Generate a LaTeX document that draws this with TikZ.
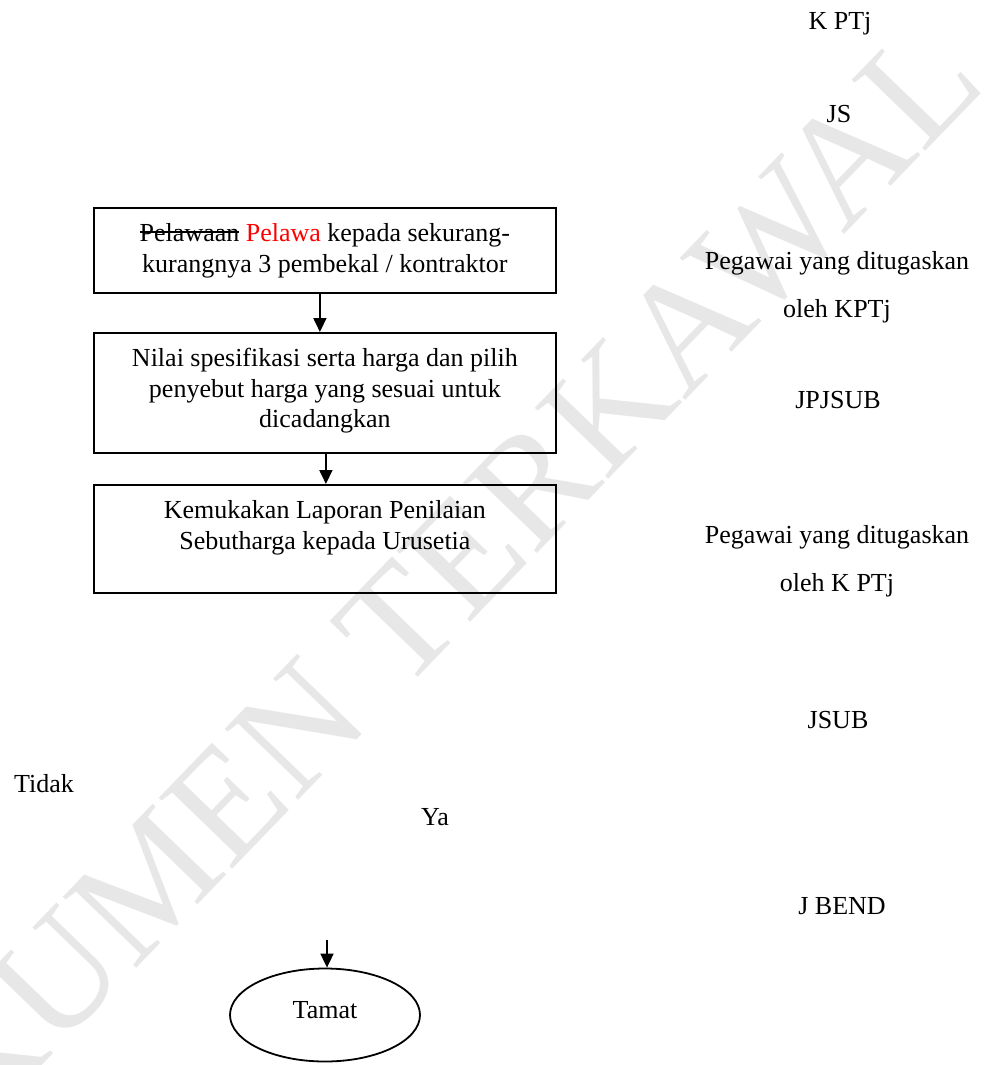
\documentclass[tikz,border=0pt]{standalone}
\usepackage{fontspec}
\setmainfont{Liberation Serif}
\usetikzlibrary{arrows.meta,shapes.geometric}

\definecolor{wmgray}{gray}{0.905}
\definecolor{editred}{RGB}{255,0,0}

% struck-out word (deleted text)
\newlength\strikewd
\newcommand{\struck}[1]{\settowidth{\strikewd}{#1}\rlap{\rule[0.34em]{\strikewd}{0.06em}}#1}
% box contents: width, height, text (top aligned)
\newcommand{\boxbody}[3]{\parbox[c][#2][t]{#1}{\centering\vspace*{12.6pt}\strut #3}}

\tikzset{
  txt/.style={font=\fontsize{26}{30.5}\selectfont, inner sep=0pt},
  stepbox/.style={draw, line width=1.8pt, txt, anchor=north west},
  flow/.style={line width=1.8pt, -{Triangle[length=14pt,width=13pt]}},
  role/.style={txt, anchor=base},
}

\begin{document}
\begin{tikzpicture}[x=1pt,y=-1pt]
\useasboundingbox (0,0) rectangle (992,1065);

% background stamp
\node[rotate=46, text=wmgray, font=\fontsize{156}{156}\selectfont, inner sep=0pt] (wm) at (368,656) {DOKUMEN TERKAWAL};

% process boxes
\node[stepbox] (b1) at (93,207) {\boxbody{462pt}{85pt}{\struck{Pelawaan} \textcolor{editred}{Pelawa} kepada sekurang-\\kurangnya 3 pembekal / kontraktor}};
\node[stepbox] (b2) at (93,332) {\boxbody{462pt}{120pt}{Nilai spesifikasi serta harga dan pilih\\penyebut harga yang sesuai untuk\\dicadangkan}};
\node[stepbox] (b3) at (93,484) {\boxbody{462pt}{108pt}{Kemukakan Laporan Penilaian\\Sebutharga kepada Urusetia}};

\draw[flow] ([xshift=-5pt]b1.south) -- ([xshift=-5pt]b2.north);
\draw[flow] ([xshift=1pt]b2.south) -- ([xshift=1pt]b3.north);

% end terminal
\node[draw, ellipse, line width=1.8pt, minimum width=190pt, minimum height=93pt, txt, text height=17pt, text depth=10pt] (tamat) at (325,1015) {Tamat};
\coordinate (tin) at (327,940);
\draw[flow] (tin) -- (tin |- tamat.north);

% decision labels
\node[role] (tidak) at (44,792) {Tidak};
\node[role] (ya) at (435,825) {Ya};

% responsible parties
\node[role] (r1) at (840,30) {K PTj};
\node[role] (r2) at (839,122) {JS};
\node[role] (r3) at (837,269) {Pegawai yang ditugaskan};
\node[role] (r3b) at (837,317) {oleh KPTj};
\node[role] (r4) at (838,408) {JPJSUB};
\node[role] (r5) at (837,543) {Pegawai yang ditugaskan};
\node[role] (r5b) at (837,591) {oleh K PTj};
\node[role] (r6) at (838,728) {JSUB};
\node[role] (r7) at (842,914) {J BEND};
\end{tikzpicture}
\end{document}
